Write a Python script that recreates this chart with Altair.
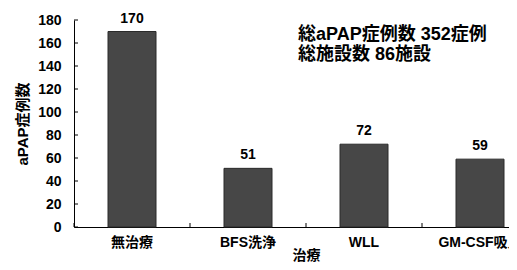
import altair as alt
import pandas as pd

categories = ["無治療", "BFS洗浄", "WLL", "GM-CSF吸入"]
counts = [170, 51, 72, 59]
y_ticks = [0, 20, 40, 60, 80, 100, 120, 140, 160, 180]
notes = ["総aPAP症例数 352症例", "総施設数 86施設"]

FONT = "Liberation Sans, Noto Sans CJK JP, sans-serif"

df = pd.DataFrame({"treatment": categories, "count": counts})
ticks_df = pd.DataFrame({"count": y_ticks})

xscale = alt.Scale(domain=categories, paddingInner=0, paddingOuter=0)
yscale = alt.Scale(domain=[0, 180], nice=False)

x_axis = alt.Axis(
    title="治療",
    labelAngle=0,
    ticks=False,
    labelPadding=8,
    labelFont=FONT,
    labelFontSize=14,
    labelFontWeight="bold",
    labelColor="black",
    titleFont=FONT,
    titleFontSize=14,
    titleFontWeight="bold",
    titleColor="black",
    titleBaseline="bottom",
    titleY=35,
    domainColor="black",
    labelLimit=200,
    labelOverlap=False,
)
y_axis = alt.Axis(
    title="aPAP症例数",
    values=y_ticks,
    ticks=False,
    grid=False,
    labelPadding=13,
    labelFont=FONT,
    labelFontSize=14,
    labelFontWeight="bold",
    labelColor="black",
    labelOverlap=False,
    titleFont=FONT,
    titleFontSize=15,
    titleFontWeight="bold",
    titleColor="black",
    titlePadding=7,
    domainColor="black",
)

x = alt.X("treatment:N", sort=categories, scale=xscale, axis=x_axis)
y = alt.Y("count:Q", scale=yscale, axis=y_axis)

bars = alt.Chart(df).mark_bar(size=48, color="#474747", stroke="#2a2a2a", strokeWidth=1).encode(x=x, y=y)

labels = alt.Chart(df).mark_text(
    dy=-6, baseline="bottom", font=FONT, fontSize=14, fontWeight="bold", color="black"
).encode(x=x, y=y, text="count:Q")

yticks = alt.Chart(ticks_df).mark_rule(color="black").encode(
    y=y, x=alt.value(0), x2=alt.value(4)
)

xticks = alt.Chart(df).mark_rule(color="black").encode(
    x=alt.X("treatment:N", sort=categories, scale=xscale, bandPosition=0, axis=x_axis),
    y=alt.value(207),
    y2=alt.value(203),
)

note_text = alt.Chart(df.head(1)).mark_text(
    align="left", baseline="middle", font=FONT, fontSize=18, fontWeight="bold",
    color="black", text=notes, lineHeight=20,
).encode(x=alt.value(224), y=alt.value(15))

chart = (
    alt.layer(bars, labels, yticks, xticks, note_text)
    .properties(
        width=464,
        height=207,
        autosize=alt.AutoSizeParams(type="none"),
        padding={"left": 66, "top": 12, "right": -29, "bottom": 35},
        background="white",
    )
    .configure_view(stroke=None)
    .configure_axisY(labelOverlap=False)
)

chart.save("out.html", embed_options={"renderer": "svg", "actions": False})
